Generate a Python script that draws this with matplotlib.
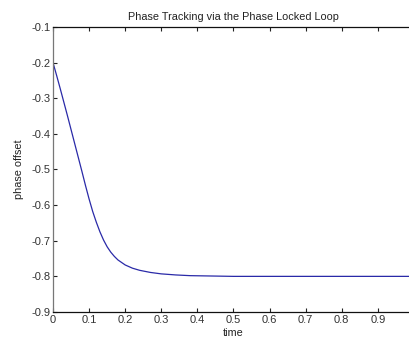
import matplotlib.pyplot as plt

# phase estimate
time_pts = [0, 0.01, 0.02, 0.03, 0.04, 0.05, 0.06, 0.07, 0.08, 0.09, 0.10,
            0.11, 0.12, 0.13, 0.14, 0.15, 0.16, 0.17, 0.18, 0.20, 0.22,
            0.24, 0.27, 0.30, 0.34, 0.38, 0.44, 0.5, 0.6, 0.8, 1.0]
phase_pts = [-0.2, -0.236, -0.273, -0.311, -0.349, -0.388, -0.427, -0.466,
             -0.505, -0.545, -0.583, -0.618, -0.648, -0.675, -0.698, -0.717,
             -0.732, -0.744, -0.754, -0.768, -0.777, -0.783, -0.789, -0.793,
             -0.796, -0.798, -0.799, -0.8, -0.8, -0.8, -0.8]

xticks = [0, 0.1, 0.2, 0.3, 0.4, 0.5, 0.6, 0.7, 0.8, 0.9]
yticks = [-0.9, -0.8, -0.7, -0.6, -0.5, -0.4, -0.3, -0.2, -0.1]

plt.rcParams['font.family'] = ['Liberation Sans', 'DejaVu Sans']

fig = plt.figure(figsize=(4.09, 3.37), dpi=100)
# axes runs a little past the right edge, like the cropped original
ax = fig.add_axes([0.1296, 0.0742, 0.8826, 0.8457])

ax.plot(time_pts, phase_pts, color='#2a2aa8', linewidth=0.9)

ax.set_xlim(0, 1)
ax.set_ylim(-0.9, -0.1)
ax.set_xticks(xticks)
ax.set_yticks(yticks)
ax.set_xticklabels(['0' if v == 0 else f'{v:g}' for v in xticks])
ax.set_yticklabels([f'{v:g}' for v in yticks])

ax.tick_params(direction='in', length=3, width=0.8, labelsize=8,
               top=True, right=True, colors='#222222', labelcolor='#333333')
ax.tick_params(axis='x', pad=2)
ax.tick_params(axis='y', pad=2)
for side in ['top', 'bottom']:
    ax.spines[side].set_color('#111111')
    ax.spines[side].set_linewidth(0.9)
ax.spines['left'].set_color('#777777')
ax.spines['left'].set_linewidth(0.9)

ax.set_title('Phase Tracking via the Phase Locked Loop', fontsize=7.8,
             color='#222222', pad=5)
ax.set_xlabel('time', fontsize=7.8, color='#222222', labelpad=2)
ax.set_ylabel('phase offset', fontsize=7.8, color='#222222', labelpad=5)

fig.savefig('out.png', dpi=100)
